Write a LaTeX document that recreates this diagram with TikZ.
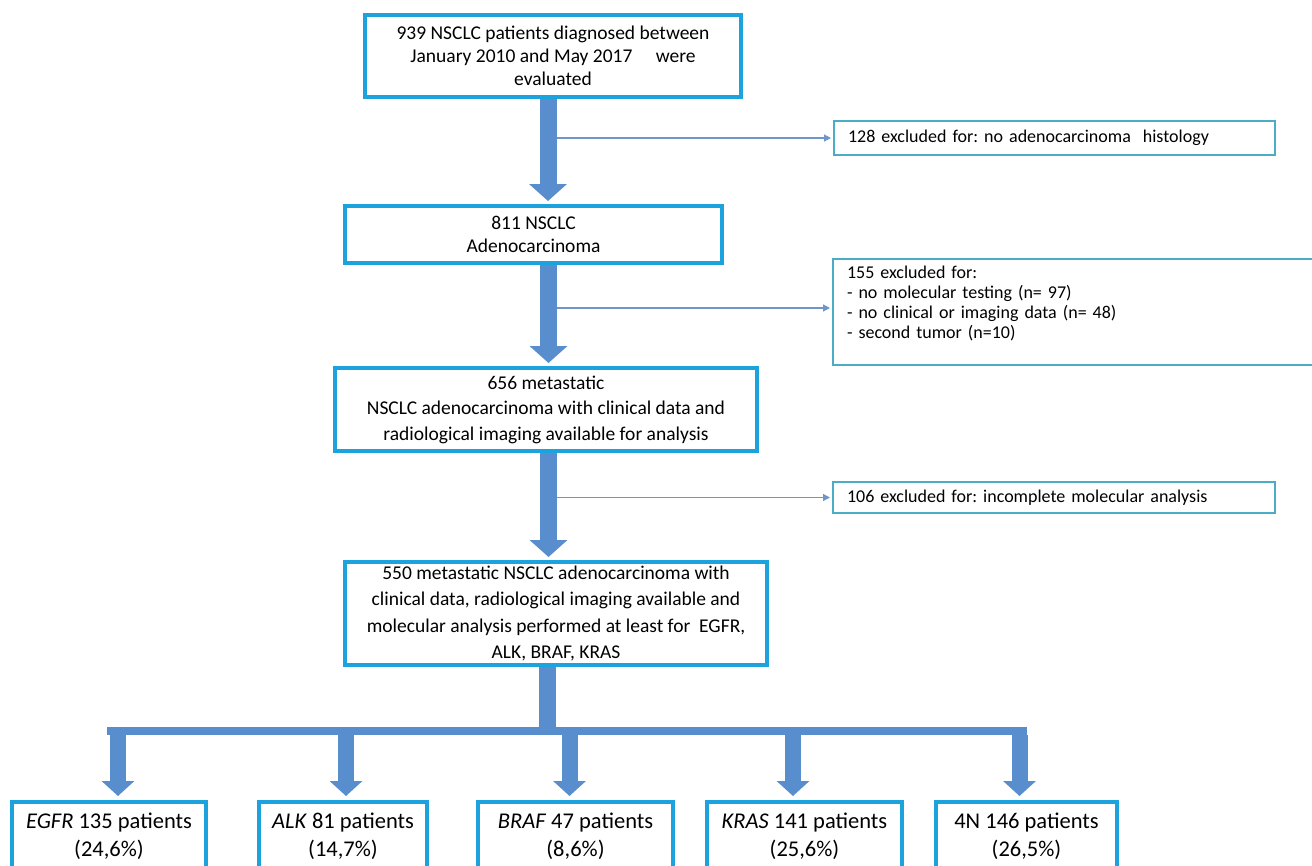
\documentclass[tikz,border=0pt]{standalone}
\usepackage{fontspec}
\setmainfont{Carlito}
\usetikzlibrary{arrows.meta}
\definecolor{boxblue}{RGB}{28,163,221}
\definecolor{exblue}{RGB}{75,172,198}
\definecolor{arrowblue}{RGB}{88,142,206}
\definecolor{thinblue}{RGB}{110,150,205}
\frenchspacing
\begin{document}
\begin{tikzpicture}[x=1pt,y=-1pt,
  mainbox/.style={draw=boxblue, line width=4pt, fill=white, align=center, inner sep=0pt, font=\fontsize{19.5}{23}\selectfont},
  genebox/.style={draw=boxblue, line width=4pt, fill=white, align=center, inner sep=0pt, font=\fontsize{22.5}{28}\selectfont},
  exbox/.style={draw=exblue, line width=2pt, fill=white, inner xsep=14pt, inner ysep=0pt, align=left, font=\fontsize{18}{20}\selectfont},
  fatarrow/.style={draw=arrowblue, line width=17pt, -{Triangle[width=37pt,length=17pt]}, shorten >=3pt},
  genearrow/.style={draw=arrowblue, line width=16pt, -{Triangle[width=32pt,length=15pt]}, shorten >=4pt},
  stemline/.style={draw=arrowblue, line width=17pt},
  barline/.style={draw=arrowblue, line width=8pt},
  thinarrow/.style={draw=thinblue, line width=1.2pt, -{Triangle[width=7pt,length=7pt]}, shorten >=2pt}
]
\useasboundingbox (0,0) rectangle (1312,865);
\clip (0,0) rectangle (1312,865);
\fill[white] (0,0) rectangle (1312,865);

% main boxes
\node[mainbox, minimum width=376pt, minimum height=82pt] (b1) at (553,56)
  {939 NSCLC patients diagnosed between\\January 2010 and May 2017\hspace{1.2em}were\\evaluated};
\node[mainbox, minimum width=377pt, minimum height=57pt] (b2) at (533.5,234.5)
  {811 NSCLC\\Adenocarcinoma};
\node[mainbox, minimum width=422pt, minimum height=83pt, font=\fontsize{19.5}{25.5}\selectfont] (b3) at (546,409.5)
  {656 metastatic\\NSCLC adenocarcinoma with clinical data and\\radiological imaging available for analysis};
\node[mainbox, minimum width=422pt, minimum height=103pt, font=\fontsize{19.5}{26.5}\selectfont] (b4) at (556,613.5)
  {550 metastatic NSCLC adenocarcinoma with\\clinical data, radiological imaging available and\\molecular analysis performed at least for\ \ EGFR,\\ALK, BRAF, KRAS};

% exclusion boxes
\node[exbox, text width=413pt, minimum height=34pt] (e1) at (1054.5,138)
  {128 excluded for: no adenocarcinoma\ \ histology};
\node[exbox, text width=469pt, minimum height=106pt] (e2) at (1081.5,312)
  {155 excluded for:\\- no molecular testing (n= 97)\\- no clinical or imaging data (n= 48)\\- second tumor (n=10)\\\mbox{}};
\node[exbox, text width=414pt, minimum height=31pt] (e3) at (1054,497.5)
  {106 excluded for: incomplete molecular analysis};

% bottom boxes
\node[genebox, minimum width=194pt, minimum height=68pt] (g1) at (109,836)
  {\textit{EGFR} 135 patients\\(24,6\%)};
\node[genebox, minimum width=168pt, minimum height=68pt] (g2) at (343,836)
  {\textit{ALK} 81 patients\\(14,7\%)};
\node[genebox, minimum width=195pt, minimum height=68pt] (g3) at (575.5,836)
  {\textit{BRAF} 47 patients\\(8,6\%)};
\node[genebox, minimum width=195pt, minimum height=68pt] (g4) at (804.5,836)
  {\textit{KRAS} 141 patients\\(25,6\%)};
\node[genebox, minimum width=181pt, minimum height=68pt] (g5) at (1026.5,836)
  {4N 146 patients\\(26,5\%)};

% axis coordinates for arrows
\coordinate (ax1) at (548,0);
\coordinate (ax2) at (548.5,0);
\coordinate (ax3) at (548.5,0);
\coordinate (axs) at (547.5,0);
\coordinate (s1) at (557,138);
\coordinate (s2) at (557,308);
\coordinate (s3) at (557,497.5);
\coordinate (barL) at (107,731);
\coordinate (barR) at (1027,731);
\coordinate (barTop) at (547.5,727);
\coordinate (k1) at (118,735);
\coordinate (k2) at (346,735);
\coordinate (k3) at (569.5,735);
\coordinate (k4) at (793,735);
\coordinate (k5) at (1019.5,735);

% flow arrows
\draw[fatarrow] (b1.south -| ax1) -- (b2.north -| ax1);
\draw[fatarrow] (b2.south -| ax2) -- (b3.north -| ax2);
\draw[fatarrow] (b3.south -| ax3) -- (b4.north -| ax3);
\draw[stemline] (b4.south -| axs) -- (barTop);
\draw[barline] (barL) -- (barR);
\draw[genearrow] (k1) -- (g1.north -| k1);
\draw[genearrow] (k2) -- (g2.north -| k2);
\draw[genearrow] (k3) -- (g3.north -| k3);
\draw[genearrow] (k4) -- (g4.north -| k4);
\draw[genearrow] (k5) -- (g5.north -| k5);

% exclusion arrows
\draw[thinarrow] (s1) -- (s1 -| e1.west);
\draw[thinarrow] (s2) -- (s2 -| e2.west);
\draw[thinarrow] (s3) -- (s3 -| e3.west);
\end{tikzpicture}
\end{document}
